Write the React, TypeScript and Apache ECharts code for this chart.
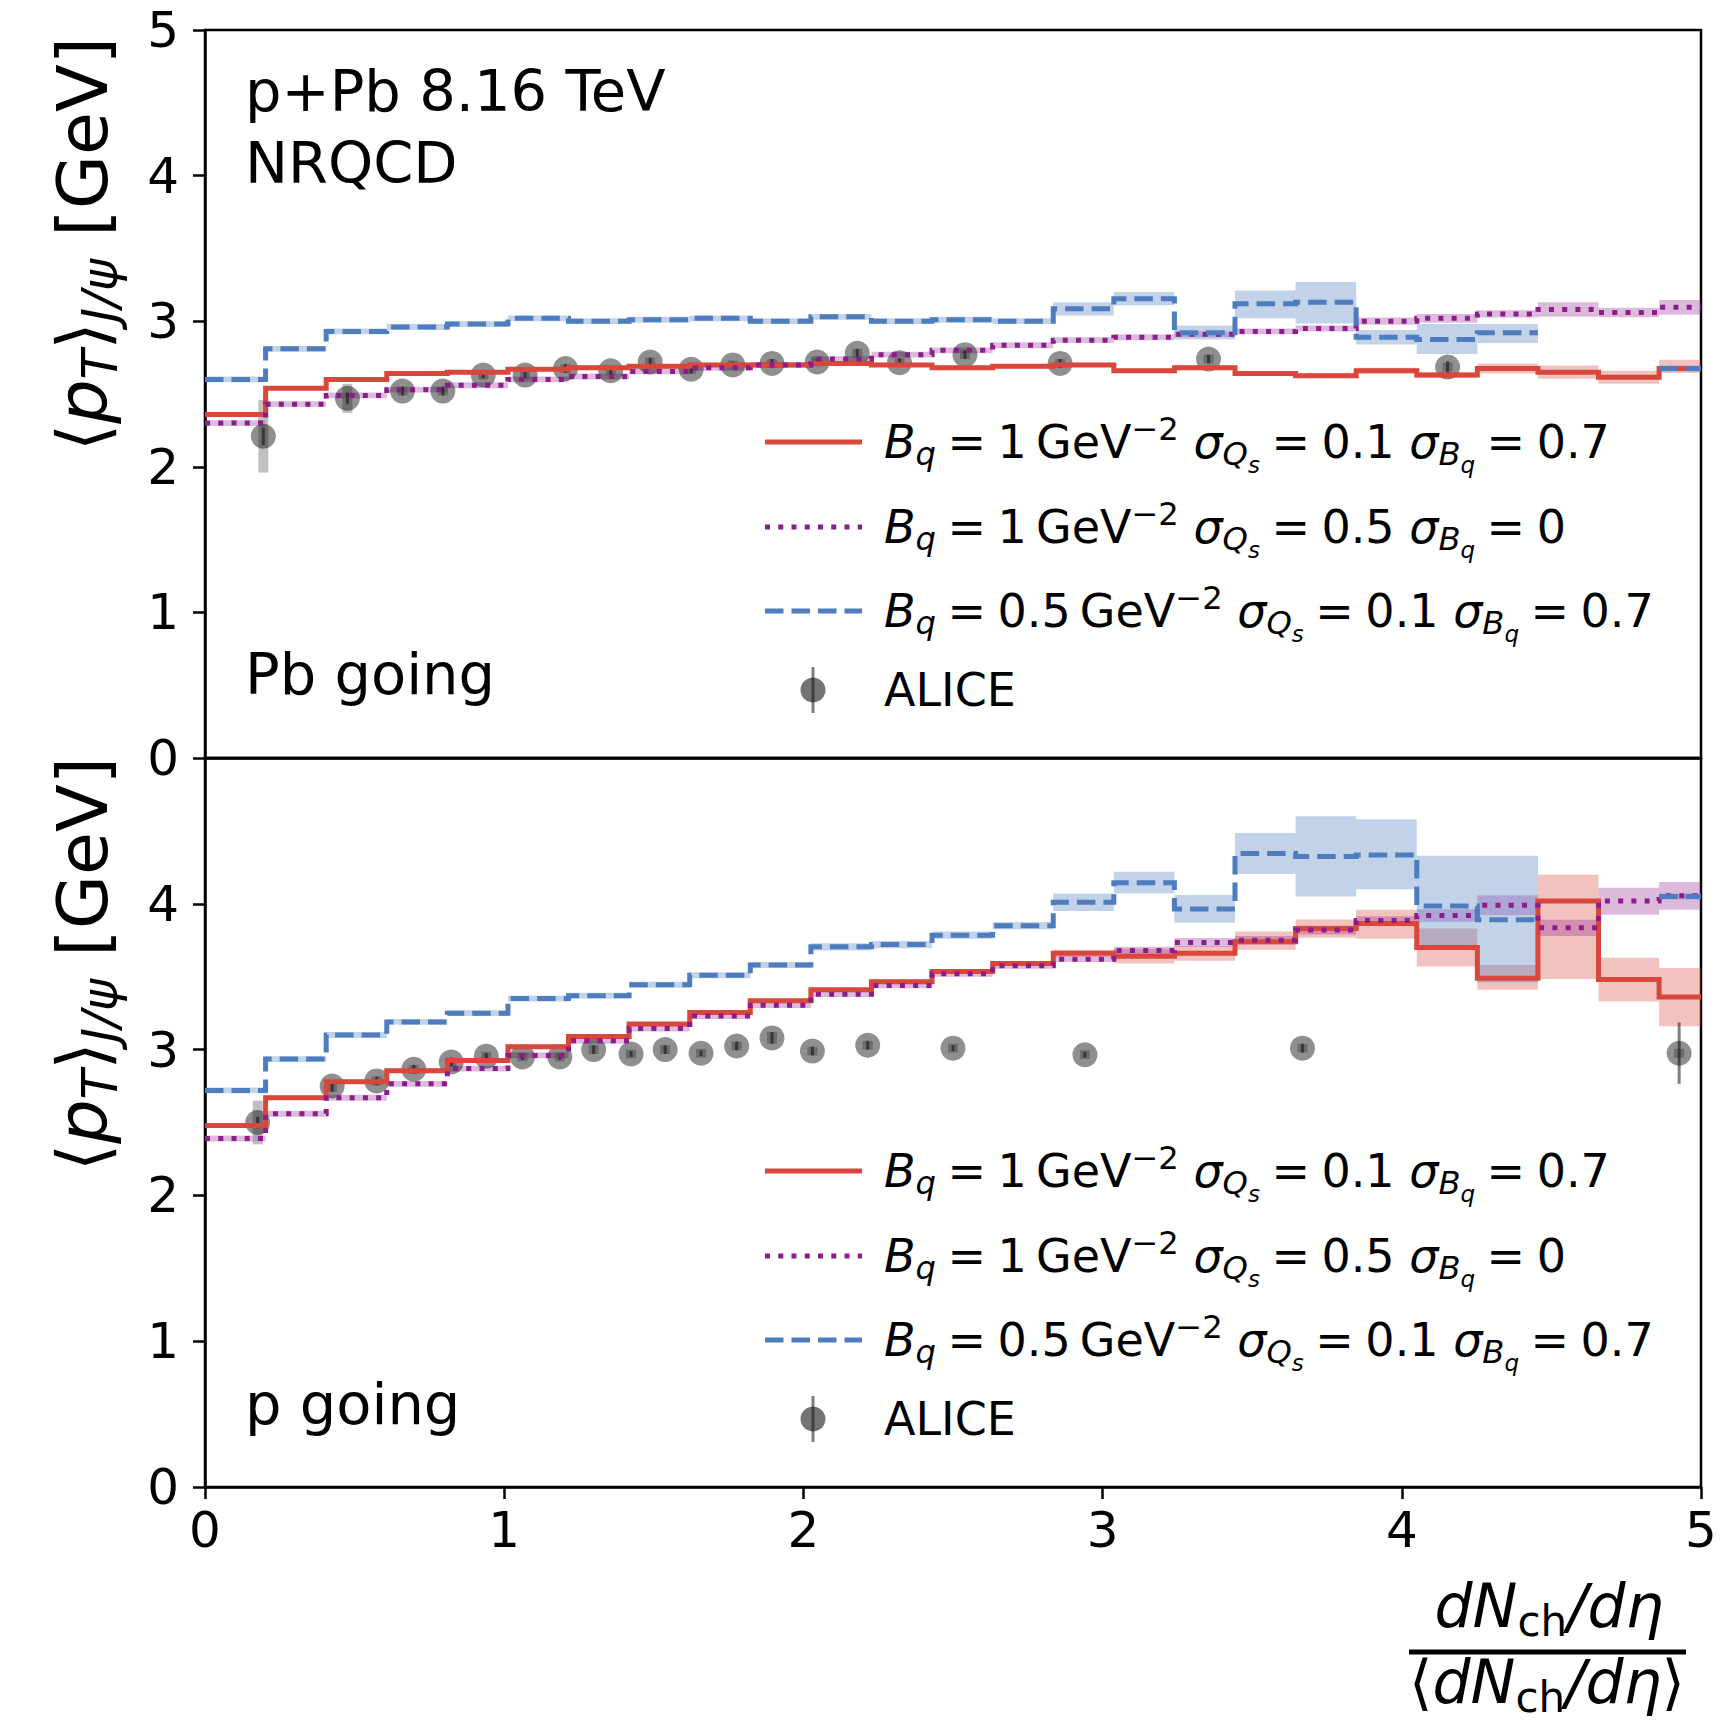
import React, { useEffect, useRef } from "react";
import * as echarts from "echarts";

const FONT = '"DejaVu Sans", sans-serif';
const BIN_WIDTH = 0.2025;
const X_MAX = 5;
const xTickValues = [0, 1, 2, 3, 4, 5];
const yTickValues = [0, 1, 2, 3, 4, 5];

// ---------- Top panel (Pb going) ----------
const topRed = [2.36, 2.54, 2.60, 2.64, 2.65, 2.67, 2.68, 2.69, 2.70, 2.70, 2.71, 2.70, 2.68, 2.69, 2.70, 2.66, 2.68, 2.64, 2.625, 2.66, 2.63, 2.675, 2.65, 2.615, 2.675];
const topRedLo = [0.015, 0.015, 0.015, 0.015, 0.015, 0.015, 0.015, 0.015, 0.015, 0.015, 0.015, 0.015, 0.015, 0.015, 0.015, 0.015, 0.015, 0.015, 0.015, 0.02, 0.02, 0.035, 0.045, 0.045, 0.03];
const topRedHi = [0.015, 0.015, 0.015, 0.015, 0.015, 0.015, 0.015, 0.015, 0.015, 0.015, 0.015, 0.015, 0.015, 0.015, 0.015, 0.015, 0.015, 0.015, 0.015, 0.02, 0.02, 0.035, 0.045, 0.045, 0.06];

const topPurple = [2.30, 2.43, 2.49, 2.53, 2.56, 2.60, 2.62, 2.655, 2.68, 2.70, 2.74, 2.77, 2.80, 2.835, 2.87, 2.89, 2.91, 2.93, 2.95, 3.00, 3.02, 3.05, 3.08, 3.06, 3.095];
const topPurpleLo = [0.02, 0.02, 0.02, 0.02, 0.02, 0.02, 0.02, 0.02, 0.02, 0.02, 0.02, 0.02, 0.02, 0.02, 0.02, 0.02, 0.02, 0.02, 0.02, 0.025, 0.03, 0.025, 0.05, 0.033, 0.05];
const topPurpleHi = [0.02, 0.02, 0.02, 0.02, 0.02, 0.02, 0.02, 0.02, 0.02, 0.02, 0.02, 0.02, 0.02, 0.02, 0.02, 0.02, 0.02, 0.02, 0.02, 0.025, 0.03, 0.025, 0.05, 0.033, 0.05];

const topBlue = [2.60, 2.81, 2.93, 2.96, 2.98, 3.02, 3.00, 3.01, 3.02, 3.00, 3.03, 3.00, 3.01, 3.00, 3.085, 3.155, 2.92, 3.12, 3.13, 2.89, 2.875, 2.92, null, null, 2.675];
const topBlueLo = [0.02, 0.02, 0.02, 0.02, 0.02, 0.02, 0.02, 0.02, 0.02, 0.02, 0.02, 0.02, 0.02, 0.02, 0.045, 0.045, 0.045, 0.10, 0.145, 0.05, 0.10, 0.07, 0, 0, 0.02];
const topBlueHi = [0.02, 0.02, 0.02, 0.02, 0.02, 0.02, 0.02, 0.02, 0.02, 0.02, 0.02, 0.02, 0.02, 0.02, 0.045, 0.045, 0.05, 0.09, 0.14, 0.05, 0.105, 0.06, 0, 0, 0.02];

const topAliceX = [0.195, 0.476, 0.66, 0.795, 0.93, 1.07, 1.205, 1.356, 1.488, 1.625, 1.764, 1.895, 2.046, 2.18, 2.321, 2.54, 2.858, 3.354, 4.153];
const topAliceY = [2.21, 2.47, 2.52, 2.52, 2.63, 2.63, 2.675, 2.66, 2.72, 2.67, 2.70, 2.71, 2.72, 2.78, 2.715, 2.77, 2.71, 2.74, 2.685];
const topAliceStat = [0.06, 0.04, 0.03, 0.03, 0.02, 0.02, 0.03, 0.03, 0.03, 0.03, 0.02, 0.03, 0.02, 0.03, 0.03, 0.03, 0.03, 0.03, 0.04];
const topAliceSys = [0.25, 0.10, 0.03, 0.03, 0.03, 0.03, 0.03, 0.03, 0.03, 0.03, 0.03, 0.03, 0.03, 0.03, 0.03, 0.03, 0.03, 0.03, 0.03];

// ---------- Bottom panel (p going) ----------
const botRed = [2.48, 2.67, 2.78, 2.855, 2.925, 3.02, 3.09, 3.175, 3.255, 3.335, 3.41, 3.465, 3.535, 3.59, 3.66, 3.64, 3.66, 3.74, 3.83, 3.865, 3.70, 3.49, 4.02, 3.48, 3.36];
const botRedLo = [0.015, 0.015, 0.015, 0.015, 0.015, 0.015, 0.015, 0.015, 0.015, 0.015, 0.015, 0.015, 0.015, 0.015, 0.025, 0.05, 0.05, 0.055, 0.063, 0.105, 0.13, 0.08, 0.535, 0.15, 0.20];
const botRedHi = [0.015, 0.015, 0.015, 0.015, 0.015, 0.015, 0.015, 0.015, 0.015, 0.015, 0.015, 0.015, 0.015, 0.015, 0.025, 0.05, 0.05, 0.07, 0.063, 0.095, 0.13, 0.09, 0.18, 0.15, 0.20];

const botPurple = [2.39, 2.56, 2.67, 2.765, 2.87, 2.96, 3.06, 3.145, 3.23, 3.305, 3.38, 3.44, 3.52, 3.575, 3.62, 3.68, 3.735, 3.75, 3.82, 3.885, 3.92, 3.99, 3.835, 4.02, 4.055];
const botPurpleLo = [0.02, 0.02, 0.02, 0.02, 0.02, 0.02, 0.02, 0.02, 0.02, 0.02, 0.02, 0.02, 0.02, 0.02, 0.02, 0.025, 0.03, 0.03, 0.03, 0.03, 0.043, 0.068, 0.055, 0.095, 0.095];
const botPurpleHi = [0.02, 0.02, 0.02, 0.02, 0.02, 0.02, 0.02, 0.02, 0.02, 0.02, 0.02, 0.02, 0.02, 0.02, 0.02, 0.025, 0.03, 0.03, 0.03, 0.03, 0.043, 0.068, 0.055, 0.09, 0.095];

const botBlue = [2.72, 2.935, 3.10, 3.19, 3.25, 3.35, 3.37, 3.445, 3.51, 3.58, 3.705, 3.72, 3.785, 3.85, 4.01, 4.145, 3.965, 4.345, 4.325, 4.335, 3.985, 3.89, null, null, 4.05];
const botBlueLo = [0.02, 0.02, 0.02, 0.02, 0.02, 0.02, 0.02, 0.02, 0.02, 0.02, 0.025, 0.025, 0.025, 0.025, 0.06, 0.075, 0.095, 0.14, 0.275, 0.235, 0.30, 0.43, 0, 0, 0.02];
const botBlueHi = [0.02, 0.02, 0.02, 0.02, 0.02, 0.02, 0.02, 0.02, 0.02, 0.02, 0.025, 0.025, 0.025, 0.025, 0.06, 0.075, 0.095, 0.14, 0.275, 0.245, 0.345, 0.44, 0, 0, 0.02];

const botAliceX = [0.176, 0.425, 0.574, 0.698, 0.823, 0.94, 1.061, 1.186, 1.299, 1.424, 1.538, 1.658, 1.777, 1.895, 2.03, 2.215, 2.5, 2.941, 3.668, 4.927];
const botAliceY = [2.50, 2.75, 2.785, 2.865, 2.915, 2.955, 2.95, 2.95, 3.00, 2.97, 3.00, 2.975, 3.025, 3.08, 2.99, 3.03, 3.01, 2.965, 3.01, 2.975];
const botAliceStat = [0.04, 0.04, 0.03, 0.03, 0.03, 0.02, 0.02, 0.02, 0.03, 0.02, 0.03, 0.02, 0.03, 0.04, 0.03, 0.03, 0.02, 0.02, 0.03, 0.21];
const botAliceSys = [0.15, 0.04, 0.03, 0.03, 0.03, 0.03, 0.03, 0.03, 0.03, 0.03, 0.03, 0.03, 0.03, 0.04, 0.03, 0.03, 0.03, 0.03, 0.03, 0.03];

// ---------- Legend / labels ----------
const EQ = "\u2005=\u2005";
const legendLabels = [
  `{i|B}{sub|q}{n|${EQ}1\u2009GeV}{sup|\u22122}{n| }{i|\u03c3}{sub|Q}{ss|s}{n|${EQ}0.1 }{i|\u03c3}{sub|B}{ss|q}{n|${EQ}0.7}`,
  `{i|B}{sub|q}{n|${EQ}1\u2009GeV}{sup|\u22122}{n| }{i|\u03c3}{sub|Q}{ss|s}{n|${EQ}0.5 }{i|\u03c3}{sub|B}{ss|q}{n|${EQ}0}`,
  `{i|B}{sub|q}{n|${EQ}0.5\u2009GeV}{sup|\u22122}{n| }{i|\u03c3}{sub|Q}{ss|s}{n|${EQ}0.1 }{i|\u03c3}{sub|B}{ss|q}{n|${EQ}0.7}`,
  "{n|ALICE}",
];
const panelTitles = ["Pb going", "p going"];
const headerLines = ["p+Pb 8.16 TeV", "NRQCD"];
const yLabelRich = "{n|\u27e8}{i|p}{sub|T}{n|\u27e9}{sub|J/\u03c8}{n| [GeV]}";
const xLabelNum = "{i|dN}{subn|ch}{i|/d\u03b7}";
const xLabelDen = "{n|\u27e8}{i|dN}{subn|ch}{i|/d\u03b7}{n|\u27e9}";

const RED = "#d9463c";
const PURPLE = "#8c1c8c";
const BLUE = "#4e7dbf";
const RED_BAND = "rgba(217,70,60,0.33)";
const PURPLE_BAND = "rgba(140,28,140,0.3)";
const BLUE_BAND = "rgba(78,125,191,0.35)";

function binEdges(k: number) {
  return [k * BIN_WIDTH, Math.min((k + 1) * BIN_WIDTH, X_MAX)];
}

function stepSegments(vals: (number | null)[]) {
  const segs: number[][][] = [];
  let cur: number[][] | null = null;
  vals.forEach((v, k) => {
    if (v == null) {
      cur = null;
      return;
    }
    const [x0, x1] = binEdges(k);
    if (!cur) {
      cur = [];
      segs.push(cur);
    }
    cur.push([x0, v], [x1, v]);
  });
  return segs;
}

function bandData(vals: (number | null)[], lo: number[], hi: number[]) {
  const out: number[][] = [];
  vals.forEach((v, k) => {
    if (v == null) return;
    const [x0, x1] = binEdges(k);
    out.push([x0, x1, v - lo[k], v + hi[k]]);
  });
  return out;
}

function richStyles(F: number, lhFactor = 1.75) {
  const L = Math.round(F * lhFactor);
  const base = L / 2 + 0.346 * F;
  const S = 0.7 * F;
  const SS = 0.5 * F;
  const subMid = base + 0.15 * F - 0.346 * S;
  const ssMid = base + 0.33 * F - 0.346 * SS;
  const supMid = base - 0.39 * F - 0.346 * S;
  const common = { fontFamily: FONT, color: "#000" };
  return {
    n: { ...common, fontSize: F, lineHeight: L, verticalAlign: "middle" },
    i: { ...common, fontSize: F, lineHeight: L, verticalAlign: "middle", fontStyle: "italic" },
    sub: { ...common, fontSize: S, fontStyle: "italic", verticalAlign: "bottom", height: 2 * (L - subMid) },
    subn: { ...common, fontSize: S, verticalAlign: "bottom", height: 2 * (L - subMid) },
    ss: { ...common, fontSize: SS, fontStyle: "italic", verticalAlign: "bottom", height: 2 * (L - ssMid) },
    sup: { ...common, fontSize: S, verticalAlign: "top", height: 2 * supMid },
  };
}

function panelSeries(
  g: number,
  red: (number | null)[], redLo: number[], redHi: number[],
  purple: (number | null)[], purpleLo: number[], purpleHi: number[],
  blue: (number | null)[], blueLo: number[], blueHi: number[],
  ax: number[], ay: number[], aStat: number[], aSys: number[]
) {
  const series: any[] = [];
  const band = (data: number[][], fill: string) => ({
    type: "custom",
    xAxisIndex: g,
    yAxisIndex: g,
    clip: true,
    silent: true,
    encode: { x: [0, 1], y: [2, 3] },
    data,
    renderItem: (_p: any, api: any) => {
      const a = api.coord([api.value(0), api.value(3)]);
      const b = api.coord([api.value(1), api.value(2)]);
      return {
        type: "rect",
        shape: { x: a[0], y: a[1], width: b[0] - a[0], height: b[1] - a[1] },
        style: { fill },
      };
    },
  });
  series.push(band(bandData(red, redLo, redHi), RED_BAND));
  series.push(band(bandData(purple, purpleLo, purpleHi), PURPLE_BAND));
  series.push(band(bandData(blue, blueLo, blueHi), BLUE_BAND));

  const lines = (vals: (number | null)[], color: string, type: any) =>
    stepSegments(vals).map((seg) => ({
      type: "line",
      xAxisIndex: g,
      yAxisIndex: g,
      data: seg,
      symbol: "none",
      silent: true,
      clip: true,
      lineStyle: { color, width: 5, type, cap: "butt", join: "miter" },
    }));
  series.push(...lines(red, RED, "solid"));
  series.push(...lines(purple, PURPLE, [5, 8.25]));
  series.push(...lines(blue, BLUE, [18.5, 8]));

  const errSeries = (errs: number[], stroke: string, lineWidth: number) => ({
    type: "custom",
    xAxisIndex: g,
    yAxisIndex: g,
    silent: true,
    encode: { x: 0, y: 1 },
    data: ax.map((x, i) => [x, ay[i], errs[i]]),
    renderItem: (_p: any, api: any) => {
      const x = api.value(0), y = api.value(1), e = api.value(2);
      const p0 = api.coord([x, y - e]);
      const p1 = api.coord([x, y + e]);
      return {
        type: "line",
        shape: { x1: p0[0], y1: p0[1], x2: p1[0], y2: p1[1] },
        style: { stroke, lineWidth },
      };
    },
  });
  series.push(errSeries(aSys, "rgba(140,140,140,0.55)", 10));
  series.push({
    type: "scatter",
    xAxisIndex: g,
    yAxisIndex: g,
    data: ax.map((x, i) => [x, ay[i]]),
    symbol: "circle",
    symbolSize: 25,
    silent: true,
    itemStyle: { color: "rgba(0,0,0,0.55)" },
  });
  series.push(errSeries(aStat, "rgba(20,20,20,0.55)", 3));
  return series;
}

function legendGraphics(rowsY: number[]) {
  const els: any[] = [];
  const x1 = 765, x2 = 862, tx = 884;
  const rich = richStyles(46);
  els.push({ type: "line", shape: { x1, y1: rowsY[0], x2, y2: rowsY[0] }, style: { stroke: RED, lineWidth: 5 } });
  els.push({ type: "line", shape: { x1, y1: rowsY[1], x2, y2: rowsY[1] }, style: { stroke: PURPLE, lineWidth: 5, lineDash: [5, 8.25] } });
  els.push({ type: "line", shape: { x1, y1: rowsY[2], x2, y2: rowsY[2] }, style: { stroke: BLUE, lineWidth: 5, lineDash: [18.5, 8] } });
  const mx = 813;
  els.push({ type: "circle", shape: { cx: mx, cy: rowsY[3], r: 12.5 }, style: { fill: "rgba(0,0,0,0.55)" } });
  els.push({ type: "line", shape: { x1: mx, y1: rowsY[3] - 23, x2: mx, y2: rowsY[3] + 23 }, style: { stroke: "rgba(20,20,20,0.55)", lineWidth: 3 } });
  legendLabels.forEach((t, i) => {
    els.push({
      type: "text",
      x: tx,
      y: rowsY[i],
      style: { text: t, rich, align: "left", verticalAlign: "middle" },
    });
  });
  return els;
}

function plainText(text: string, x: number, y: number, size: number) {
  return {
    type: "text",
    x,
    y,
    style: { text, fontFamily: FONT, fontSize: size, fill: "#000", align: "left", verticalAlign: "middle" },
  };
}

export default function App() {
  const ref = useRef<HTMLDivElement>(null);
  useEffect(() => {
    if (!ref.current) return;
    const chart = echarts.init(ref.current, null, { renderer: "svg" });
    const axisFont = { fontFamily: FONT, fontSize: 50, color: "#000" };
    const yRich = richStyles(70);
    const xRich = richStyles(60, 1.3);
    const option: any = {
      animation: false,
      backgroundColor: "#fff",
      grid: [
        { left: 205, top: 30, width: 1496, height: 728, show: true, borderColor: "#000", borderWidth: 2.5, backgroundColor: "transparent" },
        { left: 205, top: 758, width: 1496, height: 729, show: true, borderColor: "#000", borderWidth: 2.5, backgroundColor: "transparent" },
      ],
      xAxis: [
        {
          gridIndex: 0, type: "value", min: xTickValues[0], max: xTickValues[xTickValues.length - 1], interval: 1,
          axisLabel: { show: false }, axisTick: { show: false }, splitLine: { show: false },
          axisLine: { show: true, lineStyle: { color: "#000", width: 2.5 } },
        },
        {
          gridIndex: 1, type: "value", min: xTickValues[0], max: xTickValues[xTickValues.length - 1], interval: 1,
          axisLabel: { ...axisFont, margin: 18 },
          axisTick: { show: true, inside: false, length: 12, lineStyle: { color: "#000", width: 2.5 } },
          axisLine: { show: true, onZero: false, lineStyle: { color: "#000", width: 2.5 } },
          splitLine: { show: false },
        },
      ],
      yAxis: [
        {
          gridIndex: 0, type: "value", min: yTickValues[0], max: yTickValues[yTickValues.length - 1], interval: 1,
          axisLabel: { ...axisFont, margin: 26 },
          axisTick: { show: true, inside: false, length: 12, lineStyle: { color: "#000", width: 2.5 } },
          axisLine: { show: true, onZero: false, lineStyle: { color: "#000", width: 2.5 } },
          splitLine: { show: false },
        },
        {
          gridIndex: 1, type: "value", min: yTickValues[0], max: yTickValues[yTickValues.length - 1], interval: 1,
          axisLabel: { ...axisFont, margin: 26, showMaxLabel: false },
          axisTick: { show: true, inside: false, length: 12, lineStyle: { color: "#000", width: 2.5 } },
          axisLine: { show: true, onZero: false, lineStyle: { color: "#000", width: 2.5 } },
          splitLine: { show: false },
        },
      ],
      series: [
        ...panelSeries(0, topRed, topRedLo, topRedHi, topPurple, topPurpleLo, topPurpleHi, topBlue, topBlueLo, topBlueHi,
          topAliceX, topAliceY, topAliceStat, topAliceSys),
        ...panelSeries(1, botRed, botRedLo, botRedHi, botPurple, botPurpleLo, botPurpleHi, botBlue, botBlueLo, botBlueHi,
          botAliceX, botAliceY, botAliceStat, botAliceSys),
      ],
      graphic: [
        plainText(headerLines[0], 245, 91, 57.5),
        plainText(headerLines[1], 245, 163, 57.5),
        plainText(panelTitles[0], 245, 674, 57.5),
        plainText(panelTitles[1], 245, 1404, 57.5),
        {
          type: "text", x: 83, y: 244, rotation: Math.PI / 2,
          style: { text: yLabelRich, rich: yRich, align: "center", verticalAlign: "middle" },
        },
        {
          type: "text", x: 83, y: 964, rotation: Math.PI / 2,
          style: { text: yLabelRich, rich: yRich, align: "center", verticalAlign: "middle" },
        },
        {
          type: "text", x: 1549, y: 1606,
          style: { text: xLabelNum, rich: xRich, align: "center", verticalAlign: "middle" },
        },
        { type: "line", shape: { x1: 1409, y1: 1652, x2: 1686, y2: 1652 }, style: { stroke: "#000", lineWidth: 5 } },
        {
          type: "text", x: 1547, y: 1682,
          style: { text: xLabelDen, rich: xRich, align: "center", verticalAlign: "middle" },
        },
        ...legendGraphics([442, 527, 611, 690]),
        ...legendGraphics([1171, 1256, 1340, 1419]),
      ],
    };
    chart.setOption(option);
    return () => chart.dispose();
  }, []);
  return (
    <div
      ref={ref}
      style={{ position: "absolute", left: 0, top: 0, width: 1726, height: 1721, background: "#fff" }}
    />
  );
}
